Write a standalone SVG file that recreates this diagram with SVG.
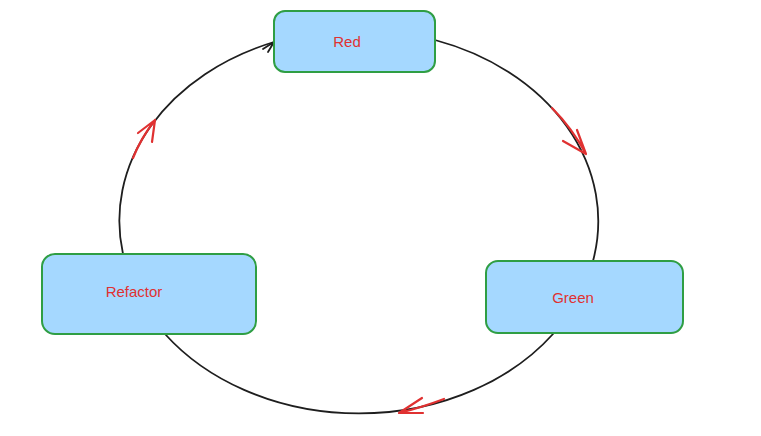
<svg xmlns="http://www.w3.org/2000/svg" width="761" height="436" viewBox="0 0 761 436">
<style>
.box{fill:#a5d8ff;stroke:#2f9e44;stroke-width:2}
.lbl{font-family:"Liberation Sans",Arial,sans-serif;font-size:15px;fill:#e03131;text-anchor:middle;dominant-baseline:middle}
.edge{fill:none;stroke:#1e1e1e;stroke-width:1.8;stroke-linecap:round}
.hl{fill:none;stroke:#e03131;stroke-width:2.2;stroke-linecap:round;stroke-linejoin:round}
</style>
<rect width="761" height="436" fill="#ffffff"/>
<g id="connectors">
<path class="edge" d="M435,40 A239,191 0 0 1 593,261"/>
<path class="edge" d="M553,334 A239,191 0 0 1 165,334"/>
<path class="edge" d="M123,254 A239,191 0 0 1 274,42"/>
<path class="edge" d="M263,49 L274,42 L268,52"/>
<path class="hl" d="M552,108 Q572,128 586,154 M563,141 L586,154 L577,130"/>
<path class="hl" d="M444,399 Q420,408 399,413 M422,398 L399,413 L423,413"/>
<path class="hl" d="M133,158 Q141,138 155,120 M138,133 L155,120 L152,142"/>
</g>
<g id="red">
<rect class="box" x="274" y="11" width="161" height="61" rx="11"/>
<text class="lbl" x="347" y="43">Red</text>
</g>
<g id="green">
<rect class="box" x="486" y="261" width="197" height="72" rx="12"/>
<text class="lbl" x="573" y="299">Green</text>
</g>
<g id="refactor">
<rect class="box" x="42" y="254" width="214" height="80" rx="13"/>
<text class="lbl" x="134" y="293">Refactor</text>
</g>
</svg>
